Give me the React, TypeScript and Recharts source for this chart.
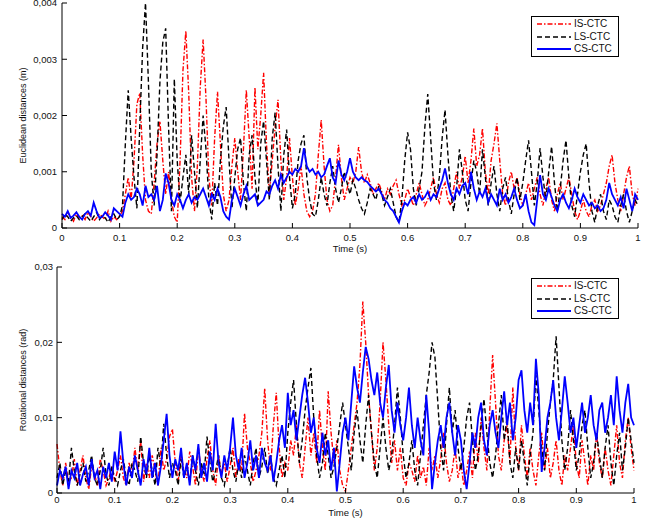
import React from 'react';
import { LineChart, Line, XAxis, YAxis, Legend } from 'recharts';

// Time grid: 0 to 1 s, step 0.005 s
const STEP = 0.005;
const X_TICKS = [0, 0.1, 0.2, 0.3, 0.4, 0.5, 0.6, 0.7, 0.8, 0.9, 1];
const TOP_Y_TICKS = [0, 0.001, 0.002, 0.003, 0.004];
const BOT_Y_TICKS = [0, 0.01, 0.02, 0.03];
const SERIES_NAMES = ['IS-CTC', 'LS-CTC', 'CS-CTC'];

// Euclidean distances, in units of 1e-3 m
const TOP_IS = [
  0.2,0.15,0.28,0.2,0.12,0.25,0.18,0.22,0.15,0.28,0.2,0.12,0.18,0.25,0.2,0.15,0.3,0.12,0.2,0.15,0.22,
  0.3,0.6,0.9,0.5,1.2,2.2,2.4,1.3,0.5,0.3,0.25,0.8,1.5,1.9,1.2,0.6,1.0,0.5,0.2,0.1,
  1.2,2.8,3.5,2.4,0.9,0.3,1.1,2.5,3.35,2.3,0.9,0.4,1.6,2.42,1.5,0.6,0.3,0.5,1.1,1.6,
  1.0,0.5,1.4,2.45,1.6,0.7,2.5,1.4,2.0,2.76,1.5,0.6,1.2,1.8,2.28,1.2,0.5,0.9,1.6,0.9,
  0.4,0.7,1.1,0.6,0.3,0.2,0.3,0.6,1.3,1.92,1.1,0.5,0.3,0.4,0.9,1.48,0.9,0.5,0.7,0.9,
  0.8,1.0,1.44,1.0,0.8,0.95,0.8,0.6,0.7,0.8,0.65,0.5,0.7,0.6,0.75,0.85,0.6,0.4,0.5,0.7,
  0.55,0.4,0.6,0.8,0.6,0.4,0.5,0.7,0.9,0.6,0.45,0.7,0.8,0.5,0.4,0.7,1.0,0.7,0.9,1.28,
  0.8,1.2,1.77,1.1,1.3,1.77,1.0,0.6,1.2,1.5,1.86,1.2,0.6,0.4,0.8,1.0,0.7,0.9,0.6,0.4,
  0.6,0.8,0.5,0.7,0.9,0.6,0.4,0.7,0.9,0.5,0.3,0.6,0.8,0.5,0.7,0.9,0.6,0.3,0.15,0.3,
  0.5,0.3,0.2,0.4,0.5,0.3,0.4,0.6,0.8,1.1,1.3,0.8,0.5,0.3,0.6,0.9,1.1,0.6,0.4,0.7,
];
const TOP_LS = [
  0.15,0.25,0.2,0.12,0.18,0.22,0.15,0.2,0.25,0.18,0.12,0.2,0.28,0.15,0.22,0.18,0.1,0.2,0.25,0.15,0.2,
  0.4,1.5,2.45,1.6,0.9,0.35,1.8,3.2,4.0,2.6,1.0,0.4,1.3,2.6,3.3,3.55,1.8,0.3,2.65,1.2,
  0.45,0.9,1.3,0.6,1.65,1.0,0.35,1.2,2.0,1.4,0.5,0.15,0.8,0.4,1.2,1.8,2.15,1.2,0.35,0.9,
  1.4,1.6,0.8,0.3,1.3,1.65,0.9,0.4,1.5,1.9,1.2,0.5,1.6,2.05,1.1,0.3,1.3,1.75,0.9,0.35,
  0.6,1.2,1.5,1.65,0.9,0.5,0.25,0.2,0.5,0.9,0.6,0.4,0.8,1.1,0.7,0.45,0.7,1.0,0.8,0.6,
  0.85,0.7,0.5,0.35,0.25,0.45,0.7,0.6,0.5,0.75,0.6,0.4,0.55,0.7,0.45,0.2,0.1,0.5,1.2,1.7,
  1.4,0.7,0.4,0.7,1.0,1.8,2.38,1.6,0.8,0.5,0.9,1.6,2.1,1.3,0.6,0.3,0.7,1.4,1.0,0.5,
  0.3,0.8,1.2,1.0,0.6,1.4,0.9,0.4,0.8,1.1,0.6,0.3,0.7,0.9,0.5,0.25,0.6,0.9,0.5,0.8,
  1.2,1.56,1.0,0.4,0.8,1.42,0.9,0.5,1.0,1.45,0.8,0.3,0.7,1.2,1.56,0.9,0.4,0.2,0.6,1.0,
  1.3,1.5,0.8,0.3,0.1,0.4,0.6,0.3,0.15,0.5,0.4,0.2,0.1,0.4,0.6,0.3,0.1,0.3,0.5,0.4,
];
const TOP_CS = [
  0.25,0.2,0.3,0.18,0.22,0.28,0.2,0.15,0.25,0.3,0.22,0.45,0.3,0.18,0.2,0.28,0.22,0.15,0.35,0.3,0.25,
  0.2,0.45,0.6,0.5,0.55,0.7,0.6,0.4,0.75,0.55,0.6,0.5,0.75,0.3,0.5,0.97,0.8,0.5,0.4,0.6,
  0.5,0.35,0.5,0.6,0.45,0.55,0.5,0.6,0.7,0.55,0.4,0.6,0.5,0.7,0.55,0.3,0.2,0.15,0.5,0.7,
  0.55,0.4,0.6,0.75,0.5,0.55,0.6,0.4,0.45,0.5,0.65,0.6,0.75,0.85,0.7,0.95,0.8,0.9,1.0,0.95,
  1.05,1.0,1.1,1.42,1.1,1.0,1.05,0.95,1.0,0.9,0.95,1.1,1.24,0.9,0.8,1.2,0.95,0.85,1.0,1.24,
  1.0,0.9,0.85,0.9,0.85,0.82,0.75,0.7,0.65,0.7,0.6,0.5,0.45,0.35,0.3,0.2,0.1,0.3,0.45,0.4,
  0.5,0.55,0.45,0.6,0.5,0.55,0.65,0.5,0.6,0.55,0.7,0.85,1.06,0.8,0.6,0.5,0.7,0.6,0.75,0.8,
  0.6,1.0,0.7,0.5,0.65,0.55,0.7,0.45,0.6,0.5,0.4,0.7,0.5,0.6,0.45,0.55,0.7,0.5,0.35,0.4,
  0.6,0.3,0.1,0.05,0.5,0.94,0.6,0.5,0.7,0.55,0.4,0.3,0.5,0.6,0.45,0.35,0.5,0.7,0.55,0.45,
  0.6,0.5,0.4,0.45,0.35,0.4,0.3,0.35,0.5,0.8,0.6,0.5,0.4,0.55,0.35,0.7,0.5,0.3,0.6,0.5,
];

// Rotational distances, in units of 1e-2 rad
const BOT_IS = [
  0.65,0.3,0.1,0.4,0.15,0.2,0.45,0.1,0.3,0.5,0.2,0.05,0.35,0.25,0.1,0.45,0.3,0.1,0.2,0.35,0.15,
  0.3,0.5,0.2,0.1,0.4,0.25,0.6,0.3,0.7,0.15,0.4,0.2,0.5,0.3,0.1,0.6,0.3,0.45,0.75,0.85,
  0.4,0.15,0.5,0.3,0.2,0.55,0.35,0.1,0.6,0.3,0.15,0.45,0.7,0.3,0.1,0.5,0.25,0.4,0.15,0.35,
  0.6,0.2,0.45,0.3,1.06,0.6,0.4,0.15,0.3,0.5,0.8,1.39,0.7,0.3,0.9,1.33,0.6,0.2,0.4,0.3,
  0.7,0.5,0.9,0.4,0.2,0.6,1.0,0.5,0.8,0.4,1.1,0.6,0.3,1.35,0.8,0.4,0.7,0.3,0.1,0.02,
  0.3,0.6,0.9,1.2,1.7,2.54,2.0,1.3,0.8,0.3,0.6,1.2,2.0,1.5,0.9,0.4,0.7,0.3,0.6,0.2,
  0.1,0.4,0.3,0.15,0.5,0.2,0.35,0.1,0.6,0.3,0.5,0.2,0.45,0.8,0.4,0.15,0.3,0.6,0.2,0.4,
  0.1,0.3,0.55,0.2,0.8,0.4,1.0,0.6,0.3,1.1,1.83,1.2,0.5,0.3,0.7,0.9,0.4,1.4,0.6,0.3,
  0.9,0.5,0.2,0.6,0.3,0.1,0.5,0.8,0.3,0.6,0.2,0.4,0.7,0.3,0.1,0.5,0.3,0.6,0.9,0.4,
  0.2,0.7,0.4,0.1,0.5,0.3,0.8,0.4,0.2,0.6,0.3,0.1,0.5,0.9,0.4,0.2,0.7,1.0,0.6,0.3,
];
const BOT_LS = [
  0.2,0.4,0.1,0.3,0.15,0.6,0.3,0.1,0.25,0.4,0.15,0.3,0.5,0.2,0.1,0.3,0.6,0.25,0.1,0.35,0.2,
  0.1,0.3,0.45,0.2,0.1,0.4,0.3,0.15,0.75,0.4,0.2,0.5,0.3,0.1,0.6,0.35,0.92,0.5,0.2,0.4,
  0.3,0.1,0.45,0.2,0.35,0.15,0.5,0.3,0.1,0.4,0.25,0.75,0.4,0.15,0.3,0.5,0.2,0.1,0.35,0.6,
  0.3,0.15,0.4,0.2,0.5,0.3,0.1,0.4,0.6,0.2,0.35,0.6,0.25,0.5,0.2,0.1,0.3,0.5,0.2,0.8,
  1.2,1.5,0.9,0.4,0.7,1.1,1.4,1.66,1.0,0.5,0.2,0.4,0.8,0.5,0.2,0.35,0.6,0.9,1.2,0.9,
  0.6,0.3,0.8,1.1,0.7,0.4,0.9,1.3,0.8,0.4,0.2,0.6,1.0,0.6,0.3,0.5,0.9,1.4,1.0,0.5,
  0.2,0.4,0.7,0.3,0.1,0.5,0.9,1.3,1.6,2.0,1.8,1.2,0.6,0.3,0.9,1.4,0.8,1.1,0.6,0.3,
  0.6,1.0,1.2,0.7,0.3,0.5,0.9,1.25,0.8,0.4,0.2,0.5,0.9,1.3,0.7,1.0,0.4,0.2,0.6,0.3,
  0.7,0.4,0.1,0.5,0.8,1.57,1.1,0.6,0.3,0.8,1.2,1.5,2.08,1.4,0.7,0.3,0.6,1.1,0.7,0.3,
  0.5,0.9,1.1,0.6,0.2,0.4,0.8,0.5,0.2,0.6,0.9,0.4,0.1,0.5,0.8,0.3,0.6,1.0,0.7,0.4,
];
const BOT_CS = [
  0.1,0.3,0.2,0.35,0.05,0.3,0.2,0.4,0.1,0.25,0.35,0.1,0.45,0.2,0.3,0.05,0.35,0.2,0.4,0.15,0.55,
  0.3,0.82,0.4,0.1,0.35,0.2,0.5,0.3,0.1,0.45,0.25,0.6,0.2,0.4,0.1,0.35,0.7,1.05,0.5,0.2,
  0.45,0.3,0.6,0.2,0.4,0.1,0.5,0.3,0.65,0.2,0.4,0.15,0.55,0.3,0.92,0.4,0.2,0.5,0.3,0.6,
  1.0,0.5,0.3,0.6,0.2,0.4,0.7,0.3,0.5,0.2,0.6,0.4,0.3,0.5,0.15,0.4,0.7,0.9,0.6,1.33,
  0.9,1.1,0.7,1.0,1.3,1.53,1.2,0.8,1.0,0.6,0.4,0.8,0.5,0.7,0.3,0.6,0.02,0.4,0.8,1.0,
  0.7,1.2,1.68,1.4,1.2,1.6,1.94,1.78,1.5,1.3,1.6,1.2,1.0,1.4,1.7,1.1,0.8,1.2,0.9,0.7,
  1.0,1.4,0.9,0.6,1.0,0.7,0.5,1.3,0.8,0.05,0.4,0.7,0.9,0.6,1.0,1.2,0.8,0.5,0.9,0.7,
  0.3,0.05,0.4,0.8,0.6,1.0,1.2,0.7,0.5,0.9,1.1,0.8,0.6,1.0,1.35,0.9,1.2,0.7,1.0,1.5,
  1.63,1.1,0.8,1.2,0.9,1.78,1.3,0.28,0.6,1.0,1.2,1.5,1.0,0.7,1.1,1.55,1.2,0.8,1.0,0.6,
  0.9,1.2,0.8,1.0,1.3,0.9,0.7,1.1,1.2,0.8,1.0,1.3,0.9,1.55,1.1,0.8,1.2,1.45,1.0,0.9,
];

const FONT = '"Liberation Sans", Arial, Helvetica, sans-serif';
const STYLES = [
  { key: 'is', color: '#ff0000', dash: '5 2 1.5 2', width: 1.4 },
  { key: 'ls', color: '#000000', dash: '5 3', width: 1.4 },
  { key: 'cs', color: '#0000ff', dash: undefined as string | undefined, width: 1.8 },
];

function buildData(is: number[], ls: number[], cs: number[], scale: number) {
  const n = Math.min(is.length, ls.length, cs.length);
  const rows: { t: number; is: number; ls: number; cs: number }[] = [];
  for (let i = 0; i < n; i++) {
    rows.push({ t: +(i * STEP).toFixed(3), is: is[i] * scale, ls: ls[i] * scale, cs: cs[i] * scale });
  }
  return rows;
}

const topData = buildData(TOP_IS, TOP_LS, TOP_CS, 0.001);
const botData = buildData(BOT_IS, BOT_LS, BOT_CS, 0.01);

const fmtX = (v: number) => String(+v.toFixed(1));
const fmtY = (digits: number) => (v: number) => (v === 0 ? '0' : v.toFixed(digits).replace('.', ','));

const LegendBox = () => (
  <div
    style={{
      border: '1px solid #000',
      background: '#fff',
      width: 88,
      height: 41,
      boxSizing: 'border-box',
      padding: '1px 0 0 5px',
      fontFamily: FONT,
      fontSize: 10,
      color: '#111',
    }}
  >
    {STYLES.map((s, i) => (
      <div key={s.key} style={{ display: 'flex', alignItems: 'center', height: 12.5 }}>
        <svg width={34} height={6} style={{ display: 'block' }}>
          <line x1={0} y1={3} x2={34} y2={3} stroke={s.color} strokeWidth={s.width} strokeDasharray={s.dash} />
        </svg>
        <span style={{ marginLeft: 3, lineHeight: '12px' }}>{SERIES_NAMES[i]}</span>
      </div>
    ))}
  </div>
);

type PanelProps = {
  data: { t: number; is: number; ls: number; cs: number }[];
  height: number;
  margin: { top: number; right: number; bottom: number; left: number };
  xAxisHeight: number;
  yTicks: number[];
  yDigits: number;
  yLabel: string;
  yLabelOffset: number;
  xTickMargin: number;
  yTickMargin: number;
  legendTop: number;
};

const tickStyle = { fill: '#111', fontSize: 9.5, fontFamily: FONT };

function Panel(p: PanelProps) {
  const yMax = p.yTicks[p.yTicks.length - 1];
  return (
    <LineChart width={656} height={p.height} data={p.data} margin={p.margin}>
      <XAxis
        type="number"
        dataKey="t"
        domain={[0, 1]}
        ticks={X_TICKS}
        tickFormatter={fmtX}
        tickSize={-5}
        tickMargin={p.xTickMargin}
        height={p.xAxisHeight}
        stroke="#000"
        tick={tickStyle}
        interval={0}
        label={{ value: 'Time  (s)', position: 'insideBottom', offset: 0, style: { fontSize: 9.5, fontFamily: FONT, fill: '#111' } }}
      />
      <XAxis
        xAxisId="top"
        orientation="top"
        type="number"
        domain={[0, 1]}
        ticks={X_TICKS}
        tickSize={-5}
        height={0}
        stroke="#000"
        tick={false}
        interval={0}
      />
      <YAxis
        type="number"
        domain={[0, yMax]}
        ticks={p.yTicks}
        tickFormatter={fmtY(p.yDigits)}
        tickSize={-5}
        tickMargin={p.yTickMargin}
        width={40}
        stroke="#000"
        tick={tickStyle}
        interval={0}
        label={{
          value: p.yLabel,
          angle: -90,
          position: 'insideLeft',
          offset: p.yLabelOffset,
          style: { textAnchor: 'middle', fontSize: 9, fontFamily: FONT, fill: '#111' },
        }}
      />
      <YAxis
        yAxisId="right"
        orientation="right"
        type="number"
        domain={[0, yMax]}
        ticks={p.yTicks}
        tickSize={-5}
        width={0}
        stroke="#000"
        tick={false}
        interval={0}
      />
      <Legend
        layout="horizontal"
        verticalAlign="middle"
        align="center"
        content={() => <LegendBox />}
        wrapperStyle={{ left: 531, top: p.legendTop, width: 88, height: 41 }}
      />
      {STYLES.map((s, i) => (
        <Line
          key={s.key}
          type="linear"
          dataKey={s.key}
          name={SERIES_NAMES[i]}
          stroke={s.color}
          strokeWidth={s.width}
          strokeDasharray={s.dash}
          dot={false}
          activeDot={false}
          isAnimationActive={false}
        />
      ))}
    </LineChart>
  );
}

export default function App() {
  return (
    <div style={{ position: 'absolute', left: 0, top: 0, width: 656, height: 521, background: '#fff' }}>
      <div style={{ position: 'absolute', left: 0, top: 0 }}>
        <Panel
          data={topData}
          height={260}
          margin={{ top: 3, right: 18, bottom: 8, left: 22 }}
          xAxisHeight={24}
          yTicks={TOP_Y_TICKS}
          yDigits={3}
          yLabel="Euclidean distances (m)"
          yLabelOffset={1}
          xTickMargin={11}
          yTickMargin={10}
          legendTop={16}
        />
      </div>
      <div style={{ position: 'absolute', left: 0, top: 260 }}>
        <Panel
          data={botData}
          height={261}
          margin={{ top: 7, right: 22, bottom: 5, left: 17 }}
          xAxisHeight={23}
          yTicks={BOT_Y_TICKS}
          yDigits={2}
          yLabel="Rotational distances (rad)"
          yLabelOffset={5.5}
          xTickMargin={8}
          yTickMargin={9}
          legendTop={18}
        />
      </div>
    </div>
  );
}
